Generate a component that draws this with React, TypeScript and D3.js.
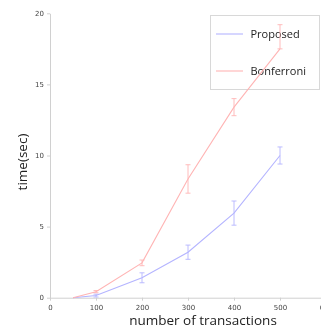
import React, { useEffect, useRef } from 'react';
import * as d3 from 'd3';

// data
const transactions = [50, 100, 200, 300, 400, 500];
const proposed = [0, 0.15, 1.4, 3.2, 5.95, 10.0];
const proposedLow = [0, 0.05, 1.05, 2.7, 5.1, 9.4];
const proposedHigh = [0, 0.25, 1.75, 3.7, 6.8, 10.6];
const bonferroni = [0, 0.42, 2.45, 8.35, 13.4, 17.5];
const bonferroniLow = [0, 0.35, 2.25, 7.35, 12.8, 17.5];
const bonferroniHigh = [0, 0.5, 2.65, 9.35, 14.0, 19.2];
const xTicks = [0, 100, 200, 300, 400, 500, 600];
const yTicks = [0, 5, 10, 15, 20];

const seriesList = [
  { name: 'Proposed', values: proposed, low: proposedLow, high: proposedHigh, color: '#b4b4ff' },
  { name: 'Bonferroni', values: bonferroni, low: bonferroniLow, high: bonferroniHigh, color: '#ffb4b4' },
];

const width = 321;
const height = 329;

const App = () => {
  const ref = useRef(null);

  useEffect(() => {
    const svg = d3.select(ref.current);
    svg.selectAll('*').remove();

    const x = d3.scaleLinear().domain([0, 600]).range([50, 326]);
    const y = d3.scaleLinear().domain([0, 20]).range([297.7, 13.3]);

    // axes
    const xAxis = svg.append('g')
      .attr('transform', `translate(0, ${y(0)})`)
      .call(d3.axisBottom(x).tickValues(xTicks).tickSize(3).tickSizeOuter(0).tickPadding(4));
    const yAxis = svg.append('g')
      .attr('transform', `translate(${x(0)}, 0)`)
      .call(d3.axisLeft(y).tickValues(yTicks).tickSize(3).tickSizeOuter(0).tickPadding(3));

    [xAxis, yAxis].forEach(ax => {
      ax.select('.domain').attr('stroke', '#d0d0d0');
      ax.selectAll('.tick line').attr('stroke', '#d0d0d0');
      ax.selectAll('.tick text')
        .attr('fill', '#444')
        .style('font-family', 'DejaVu Sans')
        .style('font-size', '7px');
    });

    // legend (drawn under the lines, as in the original)
    const legend = svg.append('g');
    legend.append('rect')
      .attr('x', 210.5).attr('y', 15.5)
      .attr('width', 109).attr('height', 74)
      .attr('fill', '#fff')
      .attr('stroke', '#d8d8d8');
    seriesList.forEach((s, i) => {
      const ly = 34 + i * 37;
      legend.append('line')
        .attr('x1', 216).attr('x2', 243)
        .attr('y1', ly).attr('y2', ly)
        .attr('stroke', s.color).attr('stroke-width', 1.1);
      legend.append('text')
        .attr('x', 250.5).attr('y', ly + 4)
        .attr('fill', '#222')
        .style('font-family', 'Open Sans')
        .style('font-size', '11px')
        .text(s.name);
    });

    // lines
    const line = d3.line()
      .x((d) => x(d[0]))
      .y((d) => y(d[1]));

    seriesList.forEach(s => {
      const pts = transactions.map((t, i) => [t, s.values[i]]);
      svg.append('path')
        .attr('d', line(pts))
        .attr('fill', 'none')
        .attr('stroke', s.color)
        .attr('stroke-width', 1.1);

      // error bars
      const g = svg.append('g').attr('stroke', s.color).attr('stroke-width', 0.9);
      transactions.forEach((t, i) => {
        if (s.high[i] - s.low[i] < 0.05) return;
        const cx = x(t);
        g.append('line').attr('x1', cx).attr('x2', cx).attr('y1', y(s.low[i])).attr('y2', y(s.high[i]));
        g.append('line').attr('x1', cx - 2.5).attr('x2', cx + 2.5).attr('y1', y(s.low[i])).attr('y2', y(s.low[i]));
        g.append('line').attr('x1', cx - 2.5).attr('x2', cx + 2.5).attr('y1', y(s.high[i])).attr('y2', y(s.high[i]));
      });
    });

    // axis titles
    svg.append('text')
      .attr('x', 203).attr('y', 325)
      .attr('text-anchor', 'middle')
      .attr('fill', '#222')
      .style('font-family', 'Open Sans')
      .style('font-size', '13.5px')
      .text('number of transactions');

    svg.append('text')
      .attr('transform', 'translate(27, 162) rotate(-90)')
      .attr('text-anchor', 'middle')
      .attr('fill', '#222')
      .style('font-family', 'Open Sans')
      .style('font-size', '13.5px')
      .text('time(sec)');
  }, []);

  return (
    <div style={{ position: 'fixed', left: 0, top: 0 }}>
      <svg ref={ref} width={width} height={height}></svg>
    </div>
  );
};

export default App;
